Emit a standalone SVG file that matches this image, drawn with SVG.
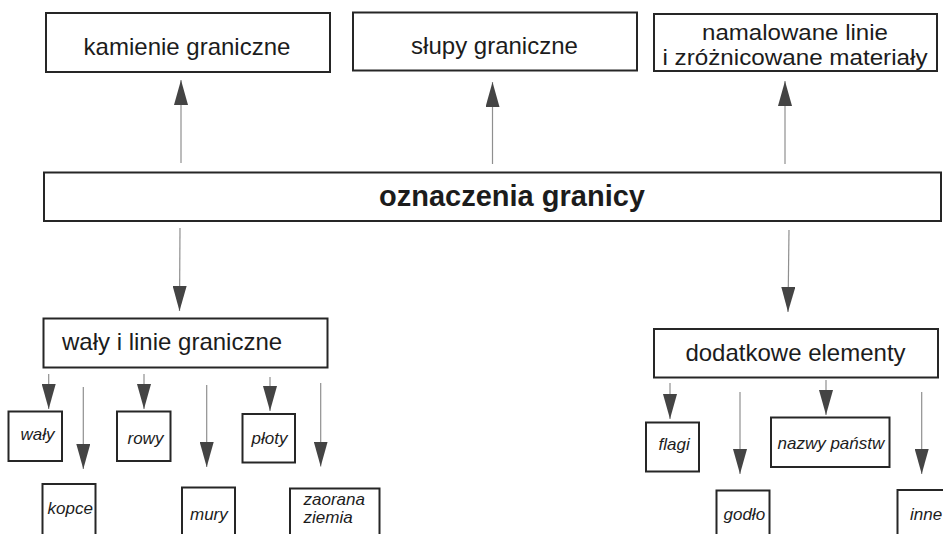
<svg xmlns="http://www.w3.org/2000/svg" width="943" height="534" viewBox="0 0 943 534">
<style>
.box{fill:#fff;stroke:#262626;stroke-width:2}
.t{font-family:"Liberation Sans",Arial,Helvetica,sans-serif;fill:#1c1c1c}
.big{font-size:24px}
.two{font-size:22px}
.main{font-size:29px;font-weight:bold}
.sm{font-size:17px;font-style:italic}
.ln{stroke:#8f8f8f;stroke-width:1.2;fill:none;marker-end:url(#ah)}
</style>
<defs>
<marker id="ah" viewBox="0 0 25 14" markerWidth="25" markerHeight="14" refX="25" refY="7" orient="auto" markerUnits="userSpaceOnUse">
<path d="M0,0 L25,7 L0,14 z" fill="#444"/>
</marker>
</defs>
<rect width="943" height="534" fill="#fff"/>
<g id="connectors">
<line class="ln" x1="181" y1="163" x2="181" y2="80"/>
<line class="ln" x1="492.5" y1="164" x2="492.5" y2="82"/>
<line class="ln" x1="785" y1="164" x2="785" y2="81"/>
<line class="ln" x1="180" y1="228" x2="179.5" y2="311"/>
<line class="ln" x1="789" y1="230" x2="788" y2="312"/>
<line class="ln" x1="48.7" y1="374" x2="48.7" y2="409"/>
<line class="ln" x1="83.3" y1="387" x2="83.3" y2="469"/>
<line class="ln" x1="144" y1="374" x2="144" y2="409"/>
<line class="ln" x1="206.7" y1="385" x2="206.7" y2="467"/>
<line class="ln" x1="270" y1="377" x2="270" y2="411"/>
<line class="ln" x1="320.7" y1="383" x2="320.7" y2="466.5"/>
<line class="ln" x1="670" y1="383" x2="670" y2="419"/>
<line class="ln" x1="740" y1="392" x2="740" y2="474"/>
<line class="ln" x1="826" y1="380" x2="826" y2="415"/>
<line class="ln" x1="921.7" y1="392" x2="921.7" y2="474"/>
</g>
<g id="kamienie">
<rect class="box" x="46" y="13" width="284" height="59"/>
<text class="t big" x="187" y="55" text-anchor="middle">kamienie graniczne</text>
</g>
<g id="slupy">
<rect class="box" x="353" y="12.5" width="284" height="58"/>
<text class="t big" x="494.5" y="54" text-anchor="middle">słupy graniczne</text>
</g>
<g id="namalowane">
<rect class="box" x="654" y="14" width="283" height="57"/>
<text class="t two" x="702" y="39.5" textLength="186" lengthAdjust="spacingAndGlyphs">namalowane linie</text>
<text class="t two" x="662.5" y="65" textLength="265" lengthAdjust="spacingAndGlyphs">i zróżnicowane materiały</text>
</g>
<g id="oznaczenia">
<rect class="box" x="44" y="172.5" width="897" height="48.5"/>
<text class="t main" x="512" y="206" text-anchor="middle">oznaczenia granicy</text>
</g>
<g id="waly-linie">
<rect class="box" x="43.5" y="318.5" width="284" height="49"/>
<text class="t big" x="62" y="349.5">wały i linie graniczne</text>
</g>
<g id="dodatkowe">
<rect class="box" x="654" y="329" width="284" height="48.5"/>
<text class="t big" x="795.5" y="361" text-anchor="middle">dodatkowe elementy</text>
</g>
<g id="waly">
<rect class="box" x="8.5" y="411.5" width="53.5" height="49.5"/>
<text class="t sm" x="20.5" y="440">wały</text>
</g>
<g id="kopce">
<rect class="box" x="42.5" y="484" width="53" height="55"/>
<text class="t sm" x="47.5" y="513.5">kopce</text>
</g>
<g id="rowy">
<rect class="box" x="117" y="411.5" width="53.5" height="49.5"/>
<text class="t sm" x="127.5" y="443.5">rowy</text>
</g>
<g id="mury">
<rect class="box" x="182" y="487.5" width="53" height="55"/>
<text class="t sm" x="190" y="520">mury</text>
</g>
<g id="ploty">
<rect class="box" x="242.5" y="414" width="52.5" height="48.5"/>
<text class="t sm" x="251.5" y="444">płoty</text>
</g>
<g id="zaorana">
<rect class="box" x="290" y="488.5" width="89.5" height="55"/>
<text class="t sm" x="303.5" y="505">zaorana</text>
<text class="t sm" x="303.5" y="522.5">ziemia</text>
</g>
<g id="flagi">
<rect class="box" x="646" y="422.5" width="53" height="49"/>
<text class="t sm" x="658.5" y="450">flagi</text>
</g>
<g id="godlo">
<rect class="box" x="716.5" y="490.5" width="53" height="55"/>
<text class="t sm" x="723.5" y="520">godło</text>
</g>
<g id="nazwy">
<rect class="box" x="771" y="417.5" width="118.5" height="49.5"/>
<text class="t sm" x="777.5" y="448.5">nazwy państw</text>
</g>
<g id="inne">
<rect class="box" x="897.5" y="490" width="60" height="55"/>
<text class="t sm" x="910" y="520">inne</text>
</g>
</svg>
